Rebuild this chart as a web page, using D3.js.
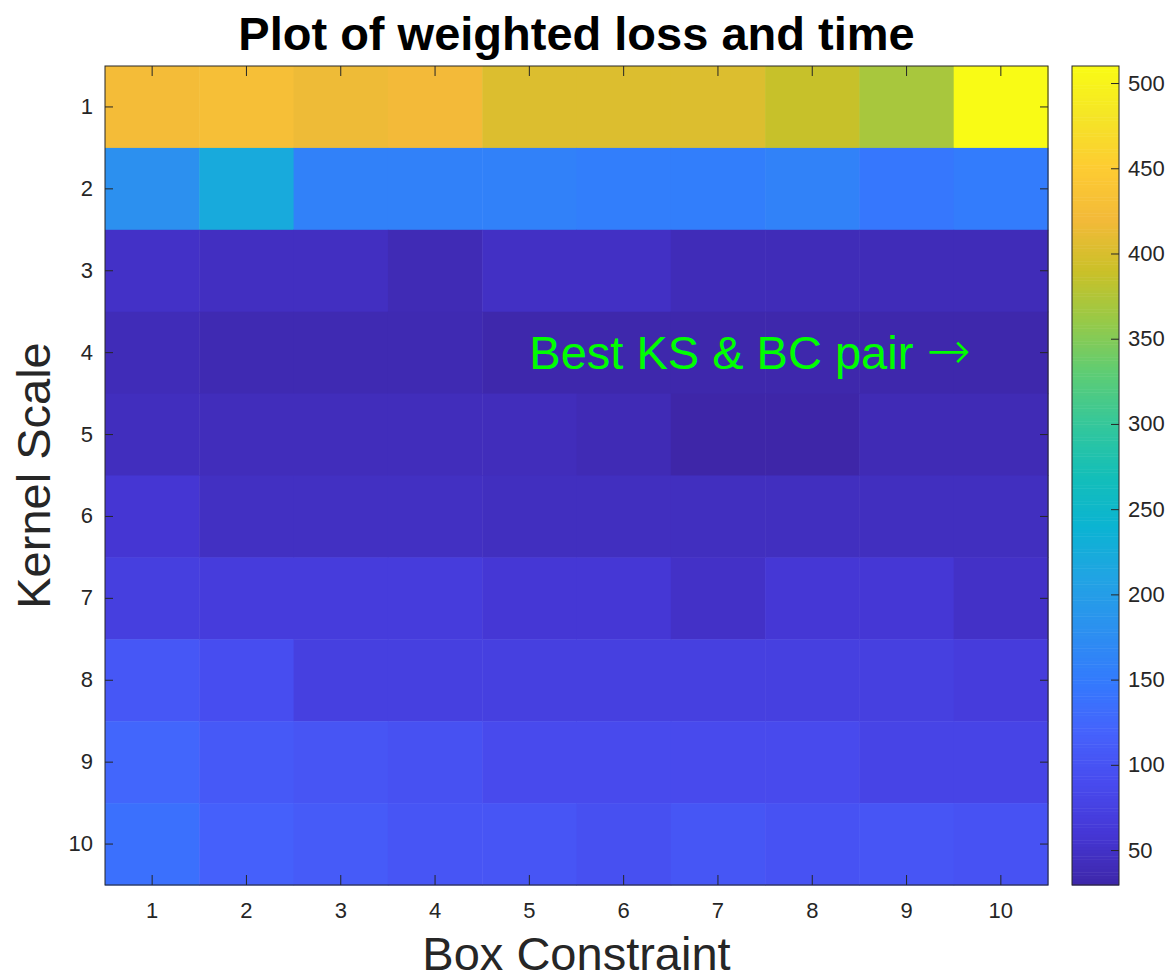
<!DOCTYPE html>
<html>
<head>
<meta charset="utf-8">
<script src="https://cdn.jsdelivr.net/npm/d3@7"></script>
<style>
	body { margin: 0; background: #fff; }
	text { font-family: "Liberation Sans", Arial, Helvetica, sans-serif; }
</style>
</head>
<body>
<svg id="chart" width="1169" height="979"></svg>
<script>
"use strict";

// axes categories
const boxConstraint = [1, 2, 3, 4, 5, 6, 7, 8, 9, 10];
const kernelScale = [1, 2, 3, 4, 5, 6, 7, 8, 9, 10];

// weighted loss, one row per kernel scale (columns = box constraint 1..10)
const lossKS1  = [423, 429, 416, 421, 403, 403, 403, 388, 370, 510];
const lossKS2  = [180, 222, 159, 159, 159, 154, 154, 160, 145, 152];
const lossKS3  = [50, 46, 46, 38, 48, 48, 40, 40, 40, 40];
const lossKS4  = [40, 36, 36, 36, 32, 32, 32, 32, 32, 32];
const lossKS5  = [44, 42, 42, 42, 42, 38, 29.5, 29.5, 38, 38];
const lossKS6  = [58, 47, 47, 47, 45, 45, 45, 45, 45, 45];
const lossKS7  = [72, 68, 68, 68, 60, 60, 50, 60, 60, 50];
const lossKS8  = [105, 92, 73, 73, 73, 73, 73, 73, 73, 68];
const lossKS9  = [124, 108, 102, 97, 88, 88, 88, 88, 80, 80];
const lossKS10 = [136, 117, 110, 103, 103, 96, 104, 99, 103, 99];
const weightedLoss = [lossKS1, lossKS2, lossKS3, lossKS4, lossKS5,
                      lossKS6, lossKS7, lossKS8, lossKS9, lossKS10];

// colour limits and colorbar ticks
const colorLimits = [29.5, 510];
const colorbarTicks = [50, 100, 150, 200, 250, 300, 350, 400, 450, 500];

// parula, sampled at 17 points
const parulaStops = [
	[0.2422, 0.1504, 0.6603], [0.2704, 0.2138, 0.8346], [0.2811, 0.2930, 0.9352],
	[0.2710, 0.3860, 0.9898], [0.2006, 0.4803, 0.9906], [0.1716, 0.5655, 0.9393],
	[0.1288, 0.6408, 0.8910], [0.0433, 0.7039, 0.8242], [0.0770, 0.7468, 0.7224],
	[0.2061, 0.7808, 0.6065], [0.3671, 0.8021, 0.4563], [0.5886, 0.7913, 0.2833],
	[0.7945, 0.7554, 0.1570], [0.9523, 0.7284, 0.2237], [0.9938, 0.7974, 0.1974],
	[0.9601, 0.8963, 0.1507], [0.9769, 0.9839, 0.0805]
];

const parula = d3.scaleLinear()
	.domain(parulaStops.map((d, i) => i / (parulaStops.length - 1)))
	.range(parulaStops.map(c => d3.rgb(c[0] * 255, c[1] * 255, c[2] * 255)))
	.interpolate(d3.interpolateRgb)
	.clamp(true);
const color = d3.scaleLinear().domain(colorLimits).range([0, 1]);
const fill = v => parula(color(v));

const ink = "#262626";
const plot = { left: 105, right: 1048, top: 66, bottom: 885 };
const bar = { left: 1072, right: 1119 };

const svg = d3.select("#chart");
svg.append("rect").attr("width", 1169).attr("height", 979).attr("fill", "#fff");

const x = d3.scaleBand().domain(boxConstraint).range([plot.left, plot.right]);
const y = d3.scaleBand().domain(kernelScale).range([plot.top, plot.bottom]);

// heatmap cells
let cells = [];
weightedLoss.forEach((row, i) => {
	row.forEach((v, j) => cells.push({ ks: kernelScale[i], bc: boxConstraint[j], v: v }));
});

svg.append("g")
	.selectAll("rect")
	.data(cells)
	.enter()
	.append("rect")
	.attr("x", d => x(d.bc))
	.attr("y", d => y(d.ks))
	.attr("width", x.bandwidth() + 0.5)
	.attr("height", y.bandwidth() + 0.5)
	.attr("fill", d => fill(d.v));

// axes, MATLAB style (ticks pointing in, all four sides)
function styleAxis(g) {
	g.select(".domain").remove();
	g.attr("color", ink)
	 .attr("font-size", 22)
	 .attr("font-family", "Liberation Sans, Arial, sans-serif");
	g.selectAll("text").attr("fill", ink);
}

svg.append("g")
	.attr("transform", `translate(0, ${plot.bottom})`)
	.call(d3.axisBottom(x).tickSize(-10).tickPadding(17))
	.call(styleAxis);
svg.append("g")
	.attr("transform", `translate(0, ${plot.top})`)
	.call(d3.axisTop(x).tickSize(-10).tickFormat(""))
	.call(styleAxis);
svg.append("g")
	.attr("transform", `translate(${plot.left}, 0)`)
	.call(d3.axisLeft(y).tickSize(-8).tickPadding(12))
	.call(styleAxis);
svg.append("g")
	.attr("transform", `translate(${plot.right}, 0)`)
	.call(d3.axisRight(y).tickSize(-8).tickFormat(""))
	.call(styleAxis);

svg.append("rect")
	.attr("x", plot.left)
	.attr("y", plot.top)
	.attr("width", plot.right - plot.left)
	.attr("height", plot.bottom - plot.top)
	.attr("fill", "none")
	.attr("stroke", ink)
	.attr("stroke-width", 1);

// colorbar
const cb = d3.scaleLinear().domain(colorLimits).range([plot.bottom, plot.top]);
const nBands = 256;
const step = (colorLimits[1] - colorLimits[0]) / nBands;
svg.append("g")
	.selectAll("rect")
	.data(d3.range(nBands))
	.enter()
	.append("rect")
	.attr("x", bar.left)
	.attr("width", bar.right - bar.left)
	.attr("y", i => cb(colorLimits[0] + (i + 1) * step))
	.attr("height", cb(0) - cb(step) + 0.5)
	.attr("fill", i => fill(colorLimits[0] + (i + 0.5) * step));

svg.append("g")
	.attr("transform", `translate(${bar.right}, 0)`)
	.call(d3.axisRight(cb).tickValues(colorbarTicks).tickSize(-8).tickPadding(9))
	.call(styleAxis);

svg.append("rect")
	.attr("x", bar.left)
	.attr("y", plot.top)
	.attr("width", bar.right - bar.left)
	.attr("height", plot.bottom - plot.top)
	.attr("fill", "none")
	.attr("stroke", ink)
	.attr("stroke-width", 1);

// texts
svg.append("text")
	.attr("x", (plot.left + plot.right) / 2)
	.attr("y", 50)
	.attr("text-anchor", "middle")
	.attr("font-size", 47)
	.attr("font-weight", "bold")
	.attr("fill", "#000")
	.text("Plot of weighted loss and time");

svg.append("text")
	.attr("x", (plot.left + plot.right) / 2)
	.attr("y", 970)
	.attr("text-anchor", "middle")
	.attr("font-size", 47)
	.attr("fill", ink)
	.text("Box Constraint");

svg.append("text")
	.attr("transform", `translate(50, ${(plot.top + plot.bottom) / 2}) rotate(-90)`)
	.attr("text-anchor", "middle")
	.attr("font-size", 47)
	.attr("fill", ink)
	.text("Kernel Scale");

// annotation at (BC 5, KS 4)
let note = svg.append("text")
	.attr("x", x(5) + x.bandwidth() / 2)
	.attr("y", y(4) + y.bandwidth() / 2)
	.attr("dy", "0.35em")
	.attr("font-size", 47)
	.attr("fill", "#00ff00");
note.append("tspan").text("Best KS & BC pair ");
note.append("tspan")
	.attr("font-family", "DejaVu Sans, sans-serif")
	.attr("font-size", 53)
	.attr("font-weight", 200)
	.text("\u2192");
</script>
</body>
</html>
